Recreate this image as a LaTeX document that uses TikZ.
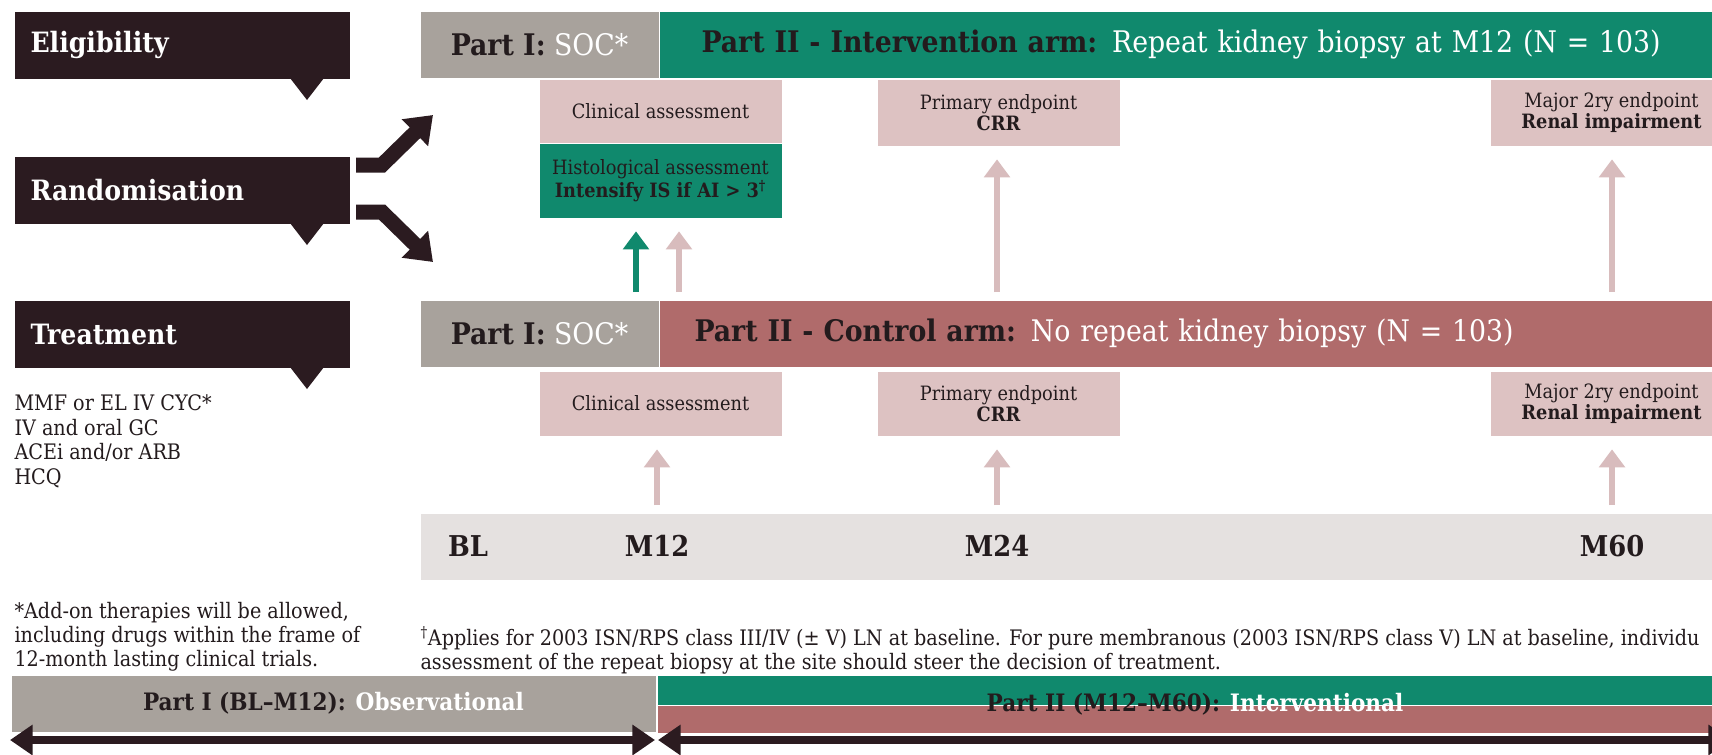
\documentclass[tikz,border=0pt]{standalone}
\usepackage{fontspec}
\setmainfont{DejaVu Serif Condensed}
\usetikzlibrary{positioning,arrows.meta}

\definecolor{darkbox}{HTML}{2B1B20}
\definecolor{inkdark}{HTML}{231B1D}
\definecolor{socgray}{HTML}{A8A29C}
\definecolor{ivgreen}{HTML}{10896D}
\definecolor{ctlred}{HTML}{B06B6B}
\definecolor{evpink}{HTML}{DDC2C2}
\definecolor{arrpink}{HTML}{D8BCBD}
\definecolor{tlgray}{HTML}{E5E1E0}

\tikzset{every picture/.style={line width=0.75pt}}
\tikzset{
  headbox/.style={fill=darkbox, text=white, anchor=north west, inner xsep=12pt, inner ysep=0pt,
    minimum height=50.25pt, text width=227.25pt, align=left, font=\bfseries\fontsize{21}{25}\selectfont},
  barcell/.style={anchor=north west, inner sep=0pt, minimum height=49.5pt, text=inkdark,
    font=\fontsize{22.3}{26}\selectfont},
  evbox/.style={fill=evpink, anchor=north west, inner sep=0pt, align=center, text=inkdark,
    minimum width=181.5pt, font=\fontsize{14.8}{16}\selectfont},
  tlabel/.style={font=\bfseries\fontsize{21.5}{25}\selectfont, text=inkdark, inner sep=0pt},
  notetext/.style={anchor=north west, align=left, inner sep=0pt, text=inkdark},
  phaselbl/.style={font=\bfseries\fontsize{18}{21}\selectfont, text=inkdark, inner sep=0pt},
  uparrow/.style={-{Triangle[length=13.5pt,width=19pt]}, line width=4.5pt, draw=arrpink,
    shorten <=6pt, shorten >=10pt},
  splitarrow/.style={-{Triangle[length=19pt,width=27pt]}, line width=11.25pt, draw=darkbox},
  phasearrow/.style={{Triangle[length=17pt,width=22pt]}-{Triangle[length=17pt,width=22pt]},
    line width=6pt, draw=darkbox},
}

\begin{document}
\begin{tikzpicture}[x=0.75pt,y=0.75pt,yscale=-1,xscale=1]
\clip (0,0) rectangle (1712,754);
\fill[white] (0,0) rectangle (1712,754);

% Left column
\node (elig) [headbox] at (14,11) {Eligibility};
\node (rand) [headbox] at (14,156) {Randomisation};
\node (treat) [headbox] at (14,300) {Treatment};
\foreach \hb in {elig,rand,treat}
  \fill[darkbox] (\hb.south east) ++(-60,-1) -- ++(17,22) -- ++(17,-22) -- cycle;

\draw[splitarrow] (rand.east) ++(6,-25) -- ++(26,0) -- ++(51,-50);
\draw[splitarrow] (rand.east) ++(6,22) -- ++(26,0) -- ++(51,50);

\node (drugs) [notetext, font=\fontsize{16}{18.5}\selectfont] at (14,394)
  {MMF or EL IV CYC*\\IV and oral GC\\ACEi and/or ARB\\HCQ};
\node (addon) [notetext, font=\fontsize{16}{18}\selectfont] at (14,602)
  {*Add-on therapies will be allowed,\\including drugs within the frame of\\12-month lasting clinical trials.};

% Intervention arm
\node (ivsoc) [barcell, fill=socgray, minimum width=178.5pt] at (420,11) {\textbf{Part I:} \textcolor{white}{SOC*}};
\node (ivarm) [barcell, fill=ivgreen, right=0pt of ivsoc, text width=727.5pt, inner xsep=31.5pt, align=left]
  {\textbf{Part II - Intervention arm:} \textcolor{white}{Repeat kidney biopsy at M12 (N = 103)}};
\node (clin1) [evbox, minimum height=47.25pt] at (539,79) {Clinical assessment};
\node (hist) [evbox, fill=ivgreen, minimum height=55.5pt, below=0pt of clin1]
  {Histological assessment\\\textbf{Intensify IS if AI > 3\textsuperscript{†}}};
\node (prim1) [evbox, minimum height=49.5pt] at (877,79) {Primary endpoint\\\textbf{CRR}};
\node (maj1) [evbox, minimum height=49.5pt] at (1490,79) {Major 2ry endpoint\\\textbf{Renal impairment}};

% Control arm
\node (ctlsoc) [barcell, fill=socgray, minimum width=178.5pt] at (420,300) {\textbf{Part I:} \textcolor{white}{SOC*}};
\node (ctlarm) [barcell, fill=ctlred, right=0pt of ctlsoc, text width=737.25pt, inner xsep=26.25pt, align=left]
  {\textbf{Part II - Control arm:} \textcolor{white}{No repeat kidney biopsy (N = 103)}};
\node (clin2) [evbox, minimum height=48pt] at (539,371) {Clinical assessment};
\node (prim2) [evbox, minimum height=48pt] at (877,371) {Primary endpoint\\\textbf{CRR}};
\node (maj2) [evbox, minimum height=48pt] at (1490,371) {Major 2ry endpoint\\\textbf{Renal impairment}};

% Timeline
\node (tline) [barcell, fill=tlgray, minimum width=969pt] at (420,513) {};
\node (tBL) [tlabel] at (468,546) {BL};
\node (tM12) [tlabel] at (657,546) {M12};
\node (tM24) [tlabel] at (997,546) {M24};
\node (tM60) [tlabel] at (1612,546) {M60};

\coordinate (xg) at (636,0);
\coordinate (xp) at (679,0);
\draw[uparrow, draw=ivgreen] (xg |- ctlsoc.north) -- (xg |- hist.south);
\draw[uparrow] (xp |- ctlsoc.north) -- (xp |- hist.south);
\draw[uparrow] (tM24 |- ctlarm.north) -- (tM24 |- prim1.south);
\draw[uparrow] (tM60 |- ctlarm.north) -- (tM60 |- maj1.south);
\draw[uparrow] (tM12 |- tline.north) -- (tM12 |- clin2.south);
\draw[uparrow] (tM24 |- tline.north) -- (tM24 |- prim2.south);
\draw[uparrow] (tM60 |- tline.north) -- (tM60 |- maj2.south);

\node (biopsynote) [notetext, font=\fontsize{16}{18}\selectfont] at (420,626)
  {\textsuperscript{†}Applies for 2003 ISN/RPS class III/IV (± V) LN at baseline. For pure membranous (2003 ISN/RPS class V) LN at baseline, individu\\assessment of the repeat biopsy at the site should steer the decision of treatment.};

% Study phases
\node (p1bar) [barcell, fill=socgray, minimum width=483pt, minimum height=42pt] at (11,675) {};
\node (p2green) [barcell, fill=ivgreen, minimum width=791pt, minimum height=21.75pt] at (657,675) {};
\node (p2red) [barcell, fill=ctlred, minimum width=791pt, minimum height=20.25pt, below=0pt of p2green] {};
\node (p1lbl) [phaselbl] at (p1bar.center) {Part I (BL–M12): \textcolor{white}{Observational}};
\node (p2lbl) [phaselbl] at (1195,704) {Part II (M12–M60): \textcolor{white}{Interventional}};

\coordinate (phL) at (10,740);
\coordinate (phM1) at (655,740);
\coordinate (phM2) at (658,740);
\coordinate (phR) at (1731,740);
\draw[phasearrow] (phL) -- (phM1);
\draw[phasearrow] (phM2) -- (phR);

\end{tikzpicture}
\end{document}
